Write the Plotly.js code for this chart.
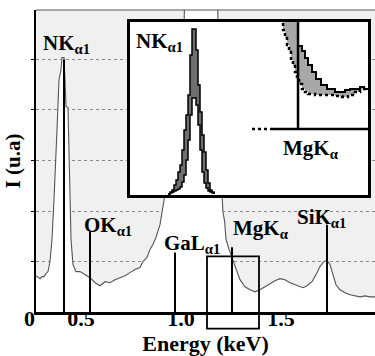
<!DOCTYPE html>
<html>
<head>
<meta charset="utf-8">
<script src="https://cdn.plot.ly/plotly-3.0.1.min.js"></script>
<style>html,body{margin:0;padding:0;background:#fff}#chart{width:375px;height:356px}</style>
</head>
<body>
<div id="chart"></div>
<script>
// ---------- main spectrum (energy in keV, intensity in a.u.) ----------
const specE = [0.275,0.285,0.295,0.305,0.315,0.325,0.335,0.345,0.355,0.365,0.37,0.38,0.39,0.40,0.405,0.415,0.42,0.425,0.435,0.44,0.445,0.45,0.46,0.475,0.495,0.52,0.545,0.57,0.595,0.62,0.645,0.67,0.695,0.72,0.745,0.77,0.795,0.81,0.83,0.845,0.86,0.875,0.895,0.91,0.92,0.945,0.985,1.015,1.022,1.1,1.178,1.185,1.2,1.205,1.21,1.218,1.225,1.24,1.255,1.275,1.295,1.32,1.345,1.37,1.395,1.42,1.445,1.47,1.495,1.52,1.545,1.57,1.595,1.61,1.63,1.655,1.675,1.695,1.715,1.73,1.745,1.76,1.775,1.795,1.82,1.845,1.87,1.895,1.92,1.945,1.97];
const specI = [0.72,0.68,0.66,0.70,0.70,0.76,0.80,1.0,1.44,2.23,2.62,3.61,4.60,4.80,5.04,5.04,4.60,4.07,4.05,3.22,2.23,1.44,0.94,0.80,0.80,0.74,0.68,0.58,0.52,0.60,0.58,0.64,0.68,0.72,0.78,0.84,0.88,1.0,1.08,1.24,1.34,1.48,1.73,2.13,2.33,3.22,4.6,5.6,7.0,7.5,7.0,5.5,3.0,2.33,1.97,1.80,1.44,1.24,1.08,0.84,0.64,0.50,0.44,0.40,0.44,0.50,0.56,0.62,0.66,0.64,0.58,0.54,0.50,0.48,0.52,0.60,0.74,0.90,1.0,1.02,0.94,0.74,0.54,0.44,0.38,0.34,0.32,0.30,0.32,0.30,0.30];

// ---------- element lines ----------
const lineLabels = ['NK<sub>α1</sub>','OK<sub>α1</sub>','GaL<sub>α1</sub>','MgK<sub>α</sub>','SiK<sub>α1</sub>'];
const lineE   = [0.415, 0.545, 0.97, 1.255, 1.73];
const lineTop = [5.0, 1.59, 1.18, 1.28, 1.73];

// x-axis ticks
const xTickVals = [0.5, 1.0, 1.5];
const xTickText = ['0.5', '1.0', '1.5'];

// ---------- inset (arbitrary inset units) ----------
// N K-alpha zoom: outer (A) and inner (B) spectra
const nkX = [38,40,42,44,46,48,50,52,54,56,58,60,62,64,66,68,70,72,74,76,78,80,82,84];
const nkA = [1,3,5,10,15,23,30,45,65,80,100,140,166,166,145,110,83,60,43,25,12,5,3,1];
const nkB = [1,2,3,4,5,6,8,13,20,35,55,80,97,97,90,70,45,23,12,7,4,3,2,1];
// Mg K-alpha zoom: solid and dotted spectra
const mgSolidX = [142,168,172,175,178,182,186,191,197,205,210,215,220,225,230,234,238];
const mgSolidY = [215,149,144,137,130,123,116,110,106,103,103,105,106,106,108,106,107];
const mgDotX = [142,153,155,157,159,161,163,165,167,169,172,175,178,185,195,205,212,218,225,230,234,238];
const mgDotY = [215,165,157,150,143,135,129,123,117,111,106,103,101,100,100,99,98,100,103,106,106,107];
const mgMarkX = 168, mgBaseY = 66;

// zoomed region of the main plot shown in the inset (keV / a.u.)
const zoomBox = {e0: 1.13, e1: 1.39, i0: -0.33, i1: 1.10};

const FONT = 'Liberation Serif, Times New Roman, serif';
const B = s => '<b>' + s + '</b>';
const xRange = [0.275, 1.97], yRange = [0, 5.98];
const toPX = e => (e - xRange[0]) / (xRange[1] - xRange[0]);
const toPY = v => (v - yRange[0]) / (yRange[1] - yRange[0]);

// build label-line trace from arrays
const lx = [], ly = [];
lineE.forEach((e, i) => { lx.push(e, e, null); ly.push(0, lineTop[i], null); });

const traces = [
  {x: specE, y: specI, type: 'scatter', mode: 'lines', fill: 'tozeroy', fillcolor: '#ffffff',
   line: {color: '#555', width: 1.1}, hoverinfo: 'skip'},
  {x: lx, y: ly, type: 'scatter', mode: 'lines', line: {color: '#000', width: 2}, hoverinfo: 'skip'},
  // inset
  {x: nkX, y: nkB, xaxis: 'x2', yaxis: 'y2', type: 'scatter', mode: 'lines', line: {color: '#000', width: 1.5, shape: 'hv'}},
  {x: nkX, y: nkA, xaxis: 'x2', yaxis: 'y2', type: 'scatter', mode: 'lines', fill: 'tonexty', fillcolor: '#6f6f6f', line: {color: '#000', width: 1.5, shape: 'hv'}},
  {x: mgDotX, y: mgDotY, xaxis: 'x2', yaxis: 'y2', type: 'scatter', mode: 'lines', line: {color: '#000', width: 2.5, dash: 'dot', shape: 'hv'}},
  {x: mgSolidX, y: mgSolidY, xaxis: 'x2', yaxis: 'y2', type: 'scatter', mode: 'lines', fill: 'tonexty', fillcolor: '#a8a8a8', line: {color: '#000', width: 2, shape: 'hv'}},
  {x: [mgMarkX, mgMarkX], y: [173, mgBaseY], xaxis: 'x2', yaxis: 'y2', type: 'scatter', mode: 'lines', line: {color: '#000', width: 2.5}},
  {x: [143, 238], y: [mgBaseY, mgBaseY], xaxis: 'x2', yaxis: 'y2', type: 'scatter', mode: 'lines', line: {color: '#000', width: 2.5}},
  {x: [122, 143], y: [mgBaseY, mgBaseY], xaxis: 'x2', yaxis: 'y2', type: 'scatter', mode: 'lines', line: {color: '#000', width: 2.5, dash: 'dot'}}
];

const LF = {family: FONT, size: 21, color: '#000'};
const labelPos = [[0.30, 5.594], [0.505, 2.005], [0.905, 1.653], [1.25, 1.941], [1.57, 2.168]];
const annotations = lineLabels.map((t, i) => ({
  text: B(t), x: labelPos[i][0], y: labelPos[i][1], xref: 'x', yref: 'y',
  xanchor: 'left', yanchor: 'top', showarrow: false, font: LF
}));
annotations.push(
  {text: B(lineLabels[0]), x: 4, y: 168, xref: 'x2', yref: 'y2', xanchor: 'left', yanchor: 'top', showarrow: false, font: LF},
  {text: B(lineLabels[3]), x: 151, y: 61, xref: 'x2', yref: 'y2', xanchor: 'left', yanchor: 'top', showarrow: false, font: LF},
  {text: B('0'), x: -0.0177, y: 0.025, xref: 'paper', yref: 'paper', xanchor: 'center', yanchor: 'top', showarrow: false,
   font: {family: FONT, size: 22, color: '#000'}}
);

const layout = {
  width: 375, height: 356,
  margin: {l: 36, r: 0, t: 10, b: 44, pad: 0},
  paper_bgcolor: '#fff', plot_bgcolor: '#fff',
  showlegend: false,
  xaxis: {
    range: xRange, tickvals: xTickVals, ticktext: xTickText.map(B), ticks: '', ticklabelstandoff: -15,
    showgrid: false, zeroline: false, showline: true, linecolor: '#000', linewidth: 2.5,
    tickfont: {family: FONT, size: 22, color: '#000'},
    title: {text: B('Energy (keV)'), font: {family: FONT, size: 22, color: '#000'}, standoff: 2}
  },
  yaxis: {
    range: yRange, tickvals: [1, 2, 3, 4, 5], showticklabels: false,
    ticks: 'outside', ticklen: 3, tickwidth: 1, tickcolor: '#000',
    showgrid: true, gridcolor: '#8a8a8a', griddash: 'dot', gridwidth: 1,
    zeroline: false, showline: true, linecolor: '#000', linewidth: 2.5,
    title: {text: B('I (u.a)'), font: {family: FONT, size: 21, color: '#000'}, standoff: 4}
  },
  xaxis2: {domain: [0.2773, 0.9794], range: [0, 238], anchor: 'y2', showgrid: false, zeroline: false,
    showticklabels: false, ticks: '', showline: true, mirror: true, linecolor: '#000', linewidth: 3},
  yaxis2: {domain: [0.3874, 0.9603], range: [0, 173], anchor: 'x2', showgrid: false, zeroline: false,
    showticklabels: false, ticks: '', showline: true, mirror: true, linecolor: '#000', linewidth: 3},
  shapes: [
    {type: 'rect', xref: 'paper', yref: 'paper', x0: 0, x1: 1, y0: 0, y1: 1, fillcolor: '#f0f0f0', line: {width: 0}, layer: 'below'},
    {type: 'line', xref: 'paper', yref: 'paper', x0: 0, x1: 1, y0: 1, y1: 1, line: {color: '#555', width: 1}},
    {type: 'rect', xref: 'paper', yref: 'paper', x0: toPX(zoomBox.e0), x1: toPX(zoomBox.e1),
     y0: toPY(zoomBox.i0), y1: toPY(zoomBox.i1), line: {color: '#000', width: 1.8}, fillcolor: 'rgba(0,0,0,0)'}
  ],
  annotations: annotations
};

Plotly.newPlot('chart', traces, layout, {staticPlot: true, displayModeBar: false});
</script>
</body>
</html>
